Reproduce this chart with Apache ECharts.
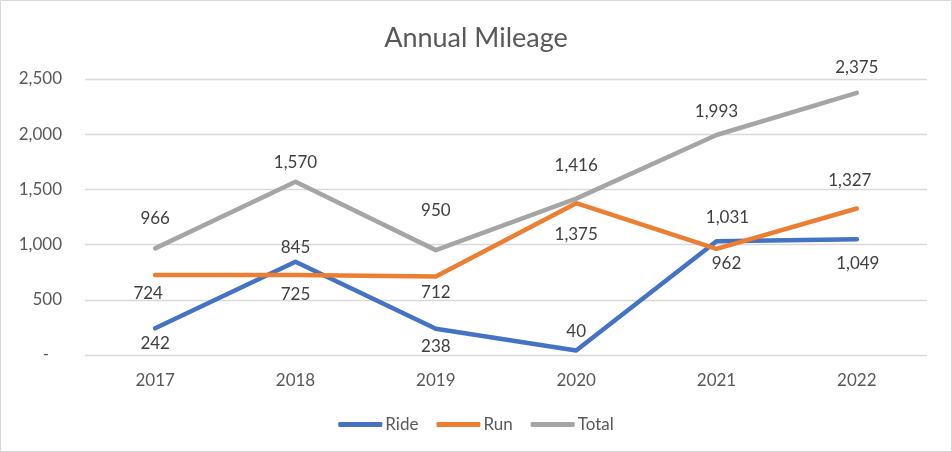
<!DOCTYPE html>
<html><head><meta charset="utf-8">
<script src="https://cdn.jsdelivr.net/npm/echarts@6/dist/echarts.min.js"></script>
<style>html,body{margin:0;padding:0;background:#fff}#c{width:952px;height:452px}</style>
</head><body><div id="c"></div>
<script>
const years = ['2017','2018','2019','2020','2021','2022'];
const ride = [242, 845, 238, 40, 1031, 1049];
const run = [724, 725, 712, 1375, 962, 1327];
const total = [966, 1570, 950, 1416, 1993, 2375];
// label offsets (dx, dy) in pixels relative to each point
const rideLabelOffsets = [[0,15],[0,-14],[0,18],[0,-19],[11,-24],[1,24]];
const runLabelOffsets = [[-7,18],[0,20],[0,16],[0,31],[10,15],[-7,-28]];
const totalLabelOffsets = [[0,-30],[0,-19],[0,-40],[0,-33],[0,-23],[0,-25]];

const fmt = v => v.toLocaleString('en-US');
const FONT = 'Lato';
const COLORS = { Ride: '#4472C4', Run: '#ED7D31', Total: '#A5A5A5' };

function build(name, vals, offs) {
  const color = COLORS[name];
  return {
    name, type: 'line', color, showSymbol: true, symbol: 'circle', symbolSize: 1,
    itemStyle: { color: 'rgba(0,0,0,0)', borderWidth: 0 },
    lineStyle: { width: 4.5, color, cap: 'round', join: 'round' },
    label: { show: true, position: 'inside', formatter: p => fmt(p.value),
      color: '#404040', fontSize: 17, fontFamily: FONT },
    labelLayout: p => ({ dx: offs[p.dataIndex][0], dy: offs[p.dataIndex][1], hideOverlap: false }),
    data: vals,
    emphasis: { disabled: true }
  };
}

const chart = echarts.init(document.getElementById('c'));
chart.setOption({
  animation: false,
  textStyle: { fontFamily: FONT },
  title: { text: 'Annual Mileage', left: 'center', top: 20,
    textStyle: { fontSize: 27, fontWeight: 'normal', color: '#595959', fontFamily: FONT } },
  graphic: [{ type: 'rect', shape: { x: 0.5, y: 0.5, width: 951, height: 451 },
    style: { fill: 'none', stroke: '#d9d9d9', lineWidth: 1 }, silent: true }],
  legend: { bottom: 14, left: 'center', icon: 'roundRect', itemWidth: 44, itemHeight: 5,
    itemGap: 18, textStyle: { fontSize: 17, color: '#595959', fontFamily: FONT, padding: [0,0,0,-2] },
    data: ['Ride', 'Run', 'Total'].map(n => ({ name: n, itemStyle: { color: COLORS[n] } })) },
  grid: { left: 85, right: 25, top: 79, bottom: 97, containLabel: false },
  xAxis: { type: 'category', data: years, boundaryGap: true,
    axisLine: { show: false }, axisTick: { show: false },
    axisLabel: { color: '#595959', fontSize: 17, margin: 17, fontFamily: FONT } },
  yAxis: { type: 'value', min: 0, max: 2500, interval: 500,
    axisLine: { show: false }, axisTick: { show: false },
    splitLine: { lineStyle: { color: '#d9d9d9', width: 1.3 } },
    axisLabel: { color: '#595959', fontSize: 17, margin: 23, fontFamily: FONT,
      formatter: v => v === 0 ? '-   ' : fmt(v) } },
  series: [
    build('Ride', ride, rideLabelOffsets),
    build('Run', run, runLabelOffsets),
    build('Total', total, totalLabelOffsets)
  ]
});
</script></body></html>
